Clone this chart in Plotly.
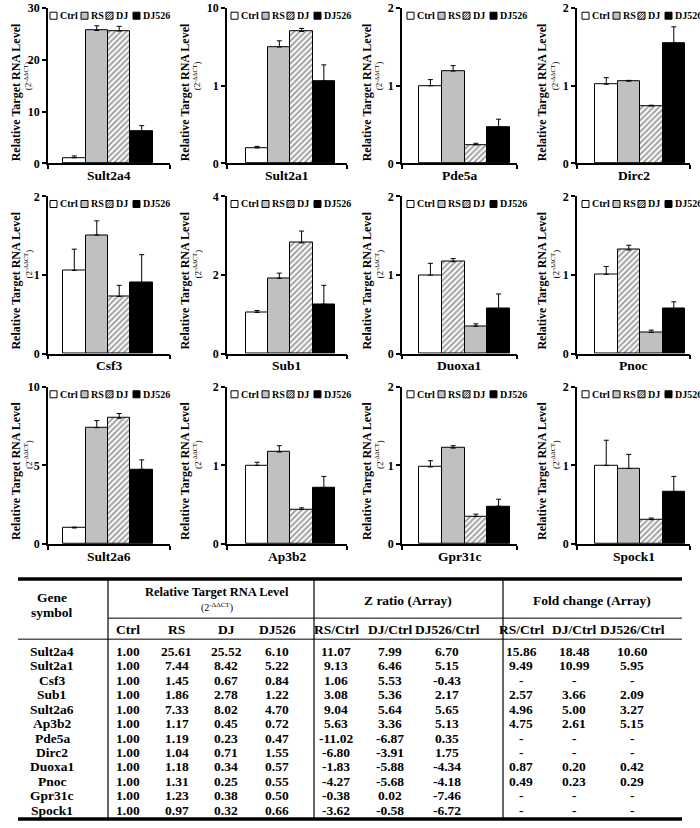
import plotly.graph_objects as go

W, H = 700, 828
FONT = "Liberation Serif, Tinos, Times New Roman, DejaVu Serif, serif"

# ---------------- bar chart data ----------------
genes = ["Sult2a4", "Sult2a1", "Pde5a", "Dirc2",
         "Csf3", "Sub1", "Duoxa1", "Pnoc",
         "Sult2a6", "Ap3b2", "Gpr31c", "Spock1"]
groups = ["Ctrl", "RS", "DJ", "DJ526"]

ctrl_vals  = [1.10, 1.00, 1.00, 1.02, 1.06, 1.05, 1.00, 1.01, 1.02, 1.00, 0.98, 1.00]
rs_vals    = [25.7, 7.50, 1.19, 1.06, 1.51, 1.92, 1.17, 1.32, 7.40, 1.17, 1.22, 0.96]
dj_vals    = [25.6, 8.50, 0.24, 0.74, 0.73, 2.82, 0.35, 0.27, 8.00, 0.44, 0.35, 0.31]
dj526_vals = [6.20, 5.30, 0.47, 1.55, 0.90, 1.26, 0.57, 0.57, 4.75, 0.72, 0.48, 0.66]

ctrl_err  = [0.35, 0.10, 0.08, 0.085, 0.27, 0.05, 0.15, 0.10, 0.05, 0.04, 0.08, 0.32]
rs_err    = [0.90, 0.40, 0.07, 0.01, 0.18, 0.13, 0.04, 0.06, 0.45, 0.08, 0.03, 0.18]
dj_err    = [0.90, 0.20, 0.02, 0.01, 0.14, 0.30, 0.03, 0.03, 0.30, 0.02, 0.03, 0.02]
dj526_err = [1.10, 1.05, 0.10, 0.21, 0.36, 0.48, 0.19, 0.09, 0.60, 0.14, 0.09, 0.20]

y_max = [30, 10, 2, 2, 2, 4, 2, 2, 10, 2, 2, 2]
y_tickvals = [[0, 10, 20, 30], [0, 5, 10], [0, 1, 2], [0, 1, 2],
              [0, 1, 2], [0, 2, 4], [0, 1, 2], [0, 1, 2],
              [0, 5, 10], [0, 1, 2], [0, 1, 2], [0, 1, 2]]
y_ticktext = [["0", "10", "20", "30"], ["0", "1", "10"], ["0", "1", "2"], ["0", "1", "2"],
              ["0", "1", "2"], ["0", "2", "4"], ["0", "1", "2"], ["0", "1", "2"],
              ["0", "5", "10"], ["0", "1", "2"], ["0", "1", "2"], ["0", "1", "2"]]
# fill style order of the four bars in each panel (Duoxa1 / Pnoc swap RS and DJ fills)
fill_order = [["w", "g", "h", "k"]] * 6 + [["w", "h", "g", "k"]] * 2 + [["w", "g", "h", "k"]] * 4

# ---------------- table data ----------------
t_genes = ["Sult2a4", "Sult2a1", "Csf3", "Sub1", "Sult2a6", "Ap3b2",
           "Pde5a", "Dirc2", "Duoxa1", "Pnoc", "Gpr31c", "Spock1"]
t_ctrl  = ["1.00"] * 12
t_rs    = ["25.61", "7.44", "1.45", "1.86", "7.33", "1.17", "1.19", "1.04", "1.18", "1.31", "1.23", "0.97"]
t_dj    = ["25.52", "8.42", "0.67", "2.78", "8.02", "0.45", "0.23", "0.71", "0.34", "0.25", "0.38", "0.32"]
t_dj526 = ["6.10", "5.22", "0.84", "1.22", "4.70", "0.72", "0.47", "1.55", "0.57", "0.55", "0.50", "0.66"]
z_rs    = ["11.07", "9.13", "1.06", "3.08", "9.04", "5.63", "-11.02", "-6.80", "-1.83", "-4.27", "-0.38", "-3.62"]
z_dj    = ["7.99", "6.46", "5.53", "5.36", "5.64", "3.36", "-6.87", "-3.91", "-5.88", "-5.68", "0.02", "-0.58"]
z_dj526 = ["6.70", "5.15", "-0.43", "2.17", "5.65", "5.13", "0.35", "1.75", "-4.34", "-4.18", "-7.46", "-6.72"]
fc_rs    = ["15.86", "9.49", "-", "2.57", "4.96", "4.75", "-", "-", "0.87", "0.49", "-", "-"]
fc_dj    = ["18.48", "10.99", "-", "3.66", "5.00", "2.61", "-", "-", "0.20", "0.23", "-", "-"]
fc_dj526 = ["10.60", "5.95", "-", "2.09", "3.27", "5.15", "-", "-", "0.42", "0.29", "-", "-"]
sub_headers = ["Ctrl", "RS", "DJ", "DJ526", "RS/Ctrl", "DJ/Ctrl", "DJ526/Ctrl",
               "RS/Ctrl", "DJ/Ctrl", "DJ526/Ctrl"]

# ---------------- layout geometry (pixels, as seen in the target) ----------------
col_x0 = [48, 227, 402, 577]
col_w = [122, 120, 115, 113]
x_ranges = [[-1.17, 4.26], [-1.35, 4.04], [-1.25, 3.81], [-1.30, 3.72]]
title_off = [-32, -42, -35, -35]
sub_off = [-20, -30, -23, -22]
leg_off = [2, 4, 5, 5]
row_top = [8, 196, 386]
row_bot = [163, 353, 543]

GRAY = "#c0c0c0"
color_map = {"w": "white", "g": GRAY, "h": "white", "k": "black"}
shape_map = {"w": "", "g": "", "h": "/", "k": ""}

# vertical compensation for the page capture (observed: shown = 6.8 + 0.9816 * drawn)
V_OFF, V_SCALE = 6.8, 0.9816


def px(x):
    return x / W


def py(y):
    ys = (y - V_OFF) / V_SCALE
    return min(1.0, max(0.0, 1 - ys / H))


fig = go.Figure()
layout = {}
annotations = []
shapes = []


def note(x, y, s, size, angle=0, xanchor="center"):
    annotations.append(dict(x=px(x), y=py(y), xref="paper", yref="paper",
                            text=s, showarrow=False, textangle=angle,
                            xanchor=xanchor, yanchor="middle",
                            font=dict(family=FONT, size=size, color="black")))


for i, g in enumerate(genes):
    r, c = divmod(i, 4)
    k = "" if i == 0 else str(i + 1)
    xa, ya = "x" + k, "y" + k
    vals = [ctrl_vals[i], rs_vals[i], dj_vals[i], dj526_vals[i]]
    errs = [ctrl_err[i], rs_err[i], dj_err[i], dj526_err[i]]
    fo = fill_order[i]
    fig.add_trace(go.Bar(
        x=[0, 1, 2, 3], y=vals, width=1.0,
        xaxis=xa, yaxis=ya,
        marker=dict(color=[color_map[f] for f in fo],
                    line=dict(color="black", width=1),
                    pattern=dict(shape=[shape_map[f] for f in fo],
                                 fgcolor="black", bgcolor="white",
                                 size=4, solidity=0.5)),
        error_y=dict(type="data", symmetric=False, array=errs,
                     arrayminus=[0, 0, 0, 0], color="black",
                     thickness=1, width=2.5),
        showlegend=False, hoverinfo="skip"))
    x0, w = col_x0[c], col_w[c]
    layout["xaxis" + k] = dict(
        domain=[px(x0), px(x0 + w)], anchor=ya, range=x_ranges[c],
        showline=True, linecolor="black", linewidth=1.5,
        tickvals=[x_ranges[c][0], x_ranges[c][1]], showticklabels=False,
        ticks="outside", ticklen=4, tickwidth=1.5, tickcolor="black",
        showgrid=False, zeroline=False, fixedrange=True)
    layout["yaxis" + k] = dict(
        domain=[py(row_bot[r]), py(row_top[r])], anchor=xa,
        range=[0, y_max[i]],
        showline=True, linecolor="black", linewidth=1.5,
        tickvals=y_tickvals[i], ticktext=y_ticktext[i],
        ticks="outside", ticklen=4, tickwidth=1.5, tickcolor="black",
        tickfont=dict(family=FONT, size=12, color="black", weight="bold"),
        showgrid=False, zeroline=False, fixedrange=True)
    # gene label
    note(x0 + w / 2, row_bot[r] + 12, "<b>%s</b>" % g, 13.5)
    # y axis title
    note(x0 + title_off[c], row_top[r] + 84, "<b>Relative Target RNA Level</b>", 12, -90)
    note(x0 + sub_off[c], row_top[r] + 68, "(2<sup>-ΔΔCT</sup>)", 9, -90)
    # legend (drawn swatches + text)
    lx = x0 + leg_off[c]
    ly = row_top[r] + 4
    s = 7
    offs = [0, 31, 56, 83]
    for j, gname in enumerate(groups):
        f = ["w", "g", "h", "k"][j]
        a = lx + offs[j]
        shapes.append(dict(type="rect", xref="paper", yref="paper",
                           x0=px(a), x1=px(a + s), y0=py(ly + s), y1=py(ly),
                           fillcolor=color_map[f], line=dict(color="black", width=1)))
        if f == "h":
            path = ""
            for t in (0.35, 0.7, 1.0):
                path += "M %f %f L %f %f " % (px(a), py(ly + s * t), px(a + s * t), py(ly))
            for t in (0.35, 0.7):
                path += "M %f %f L %f %f " % (px(a + s * t), py(ly + s), px(a + s), py(ly + s * t))
            shapes.append(dict(type="path", xref="paper", yref="paper", path=path,
                               line=dict(color="black", width=0.8)))
        note(a + s + 1, ly + s / 2, "<b>%s</b>" % gname, 10, 0, "left")

# ---------------- table ----------------
TL, TR = 18, 682
T_TOP, T_BOT = 578, 817.5
ROW0, ROW_STEP = 650, 14.45
seps = [108, 314, 503]
shapes.append(dict(type="line", xref="paper", yref="paper", x0=px(TL), x1=px(TR),
                   y0=py(T_TOP), y1=py(T_TOP), line=dict(color="black", width=3.5)))
shapes.append(dict(type="line", xref="paper", yref="paper", x0=px(TL), x1=px(TR),
                   y0=py(T_BOT), y1=py(T_BOT), line=dict(color="black", width=3.5)))
for sx in seps:
    shapes.append(dict(type="line", xref="paper", yref="paper", x0=px(sx), x1=px(sx),
                       y0=py(T_TOP), y1=py(T_BOT), line=dict(color="black", width=1.2)))
shapes.append(dict(type="line", xref="paper", yref="paper", x0=px(seps[0]), x1=px(TR),
                   y0=py(617), y1=py(617), line=dict(color="black", width=1)))
shapes.append(dict(type="line", xref="paper", yref="paper", x0=px(TL), x1=px(TR),
                   y0=py(638), y1=py(638), line=dict(color="black", width=1)))

note(52, 596, "<b>Gene</b>", 13.5)
note(52, 611, "<b>symbol</b>", 13.5)
note(217, 591, "<b>Relative Target RNA Level</b>", 12.5)
note(217, 606, "(2<sup>-ΔΔCT</sup>)", 10)
note(408, 599, "<b>Z ratio (Array)</b>", 13.5)
note(592, 599, "<b>Fold change (Array)</b>", 13.5)

col_cx = [128, 177, 226, 277, 336, 390, 447, 521, 574, 632]
for cx, hname in zip(col_cx, sub_headers):
    note(cx, 628, "<b>%s</b>" % hname, 13.5)

cols = [t_ctrl, t_rs, t_dj, t_dj526, z_rs, z_dj, z_dj526, fc_rs, fc_dj, fc_dj526]
for ri, gname in enumerate(t_genes):
    yy = ROW0 + ri * ROW_STEP
    note(52, yy, "<b>%s</b>" % gname, 13.5)
    for cx, col in zip(col_cx, cols):
        note(cx, yy, "<b>%s</b>" % col[ri], 13.5)

fig.update_layout(
    width=W, height=H, margin=dict(l=0, r=0, t=0, b=0),
    paper_bgcolor="white", plot_bgcolor="white",
    showlegend=False, bargap=0,
    annotations=annotations, shapes=shapes, **layout)

post = (
    "document.documentElement.style.margin='0px';"
    "document.body.style.margin='0px';"
    "document.body.style.overflow='hidden';"
)
fig.write_html("out.html", config={"displayModeBar": False}, post_script=post)
